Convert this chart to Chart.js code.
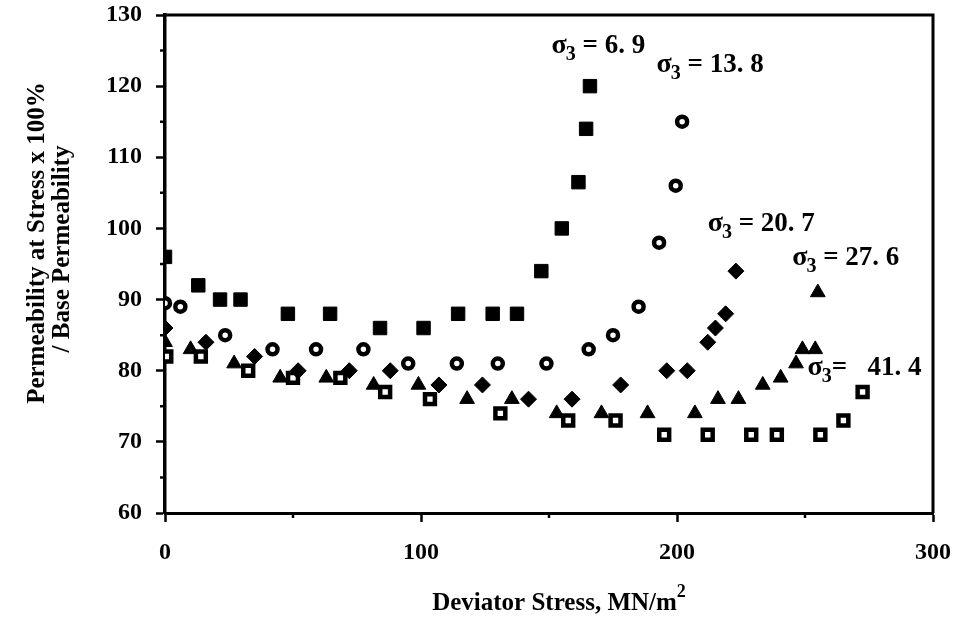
<!DOCTYPE html>
<html>
<head>
<meta charset="utf-8">
<script src="https://cdn.jsdelivr.net/npm/chart.js@4.4.0/dist/chart.umd.min.js"></script>
<style>
  html, body { margin: 0; padding: 0; background: #fff; }
</style>
</head>
<body>
<canvas id="permChart" width="963" height="636"></canvas>
<script>
// Deviator stress (MN/m2) vs permeability ratio (%), one pair of arrays per confining pressure
const s69X = [0, 13, 21.5, 29.5, 48, 64.5, 84, 101, 114.5, 128, 137.5, 147, 155, 161.5, 164.5, 166];
const s69Y = [96, 92, 90, 90, 88, 88, 86, 86, 88, 88, 88, 94, 100, 106.5, 114, 120];

const s138X = [0, 6, 23.5, 42, 59, 77.5, 95, 114, 130, 149, 165.5, 175, 185, 193, 199.5, 202];
const s138Y = [89.5, 89, 85, 83, 83, 83, 81, 81, 81, 81, 83, 85, 89, 98, 106, 115];

const s207X = [0, 16, 35, 52, 72, 88, 107, 124, 142, 159, 178, 196, 204, 212, 215, 219, 223];
const s207Y = [86, 84, 82, 80, 80, 80, 78, 78, 76, 76, 78, 80, 80, 84, 86, 88, 94];

const s276X = [0, 10, 27, 45, 63, 81.5, 99, 118, 135.5, 153, 170.5, 188.5, 207, 216, 224, 233.5, 240.5, 246.5, 249, 254, 255];
const s276Y = [84, 83, 81, 79, 79, 78, 78, 76, 76, 74, 74, 74, 74, 76, 76, 78, 79, 81, 83, 83, 91];

const s414X = [0.5, 14, 32.5, 50, 68.5, 86, 103.5, 131, 157.5, 176, 195, 212, 229, 239, 256, 265, 272.5];
const s414Y = [82, 82, 80, 79, 79, 77, 76, 74, 73, 73, 71, 71, 71, 71, 71, 73, 77];

// curve labels: text after the sigma, anchored in data units
const labelText = [" = 6. 9", " = 13. 8", " = 20. 7", " = 27. 6", "=   41. 4"];
const labelX = [151, 192, 212, 245, 251];
const labelY = [124.7, 122, 99.6, 94.9, 79.4];

const xMinor = [50, 150, 250];
const yMinor = [65, 75, 85, 95, 105, 115, 125];

const FONT = "'Liberation Serif', 'Times New Roman', serif";

function pairs(xs, ys) {
  return xs.map((x, i) => ({ x: x, y: ys[i] }));
}

const extras = {
  id: "extras",
  afterDraw(chart) {
    const { ctx, chartArea: a, scales } = chart;
    const x = scales.x, y = scales.y;
    ctx.save();
    ctx.strokeStyle = "#000";
    ctx.fillStyle = "#000";

    // top and right of the frame
    ctx.lineWidth = 3;
    ctx.beginPath();
    ctx.moveTo(a.left, a.top);
    ctx.lineTo(a.right, a.top);
    ctx.lineTo(a.right, a.bottom);
    ctx.stroke();

    // short minor ticks
    ctx.lineWidth = 2.5;
    ctx.beginPath();
    xMinor.forEach(v => {
      const px = x.getPixelForValue(v);
      ctx.moveTo(px, a.bottom);
      ctx.lineTo(px, a.bottom + 5);
    });
    yMinor.forEach(v => {
      const py = y.getPixelForValue(v);
      ctx.moveTo(a.left, py);
      ctx.lineTo(a.left - 5, py);
    });
    ctx.stroke();

    // sigma labels
    ctx.textBaseline = "alphabetic";
    ctx.textAlign = "left";
    labelText.forEach((t, i) => {
      let px = x.getPixelForValue(labelX[i]);
      const py = y.getPixelForValue(labelY[i]);
      ctx.font = "bold 28px " + FONT;
      ctx.fillText("\u03c3", px, py);
      px += ctx.measureText("\u03c3").width - 1;
      ctx.font = "bold 20px " + FONT;
      ctx.fillText("3", px, py + 7);
      px += ctx.measureText("3").width;
      ctx.font = "bold 27px " + FONT;
      ctx.fillText(t, px, py);
    });

    // x axis title with superscript
    ctx.font = "bold 25px " + FONT;
    const main = "Deviator Stress, MN/m";
    const wMain = ctx.measureText(main).width;
    ctx.font = "bold 18px " + FONT;
    const wSup = ctx.measureText("2").width;
    const cx = (a.left + a.right) / 2 + 10;
    const tx = cx - (wMain + wSup) / 2;
    ctx.font = "bold 25px " + FONT;
    ctx.fillText(main, tx, 610);
    ctx.font = "bold 18px " + FONT;
    ctx.fillText("2", tx + wMain, 597);

    // y axis title, two lines rotated
    ctx.font = "bold 25px " + FONT;
    ctx.textAlign = "center";
    ctx.textBaseline = "middle";
    ctx.translate(38, 243);
    ctx.rotate(-Math.PI / 2);
    ctx.fillText("Permeability at Stress x 100%", 0, 0);
    ctx.fillText("/ Base Permeability", -6, 25);
    ctx.restore();
  }
};

function fitX(s) {
  s.height = 123;
  s.paddingLeft = 0;
  s.paddingRight = 0;
}

function fitY(s) {
  s.width = 165;
  s.paddingTop = 0;
  s.paddingBottom = 0;
}

function createPermChart() {
  Chart.defaults.font.family = FONT;
  Chart.defaults.color = "#000";

  const ctx = document.getElementById("permChart").getContext("2d");
  new Chart(ctx, {
    type: "scatter",
    data: {
      datasets: [
        {
          label: "6.9",
          data: pairs(s69X, s69Y),
          pointStyle: "rect",
          pointRadius: 9.5,
          backgroundColor: "#000",
          borderColor: "#000",
          borderWidth: 1,
        },
        {
          label: "13.8",
          data: pairs(s138X, s138Y),
          pointStyle: "circle",
          pointRadius: 5,
          backgroundColor: "#fff",
          borderColor: "#000",
          borderWidth: 4.5,
        },
        {
          label: "20.7",
          data: pairs(s207X, s207Y),
          pointStyle: "rectRot",
          pointRadius: 8,
          backgroundColor: "#000",
          borderColor: "#000",
          borderWidth: 1,
        },
        {
          label: "27.6",
          data: pairs(s276X, s276Y),
          pointStyle: "triangle",
          pointRadius: 8.5,
          backgroundColor: "#000",
          borderColor: "#000",
          borderWidth: 1,
        },
        {
          label: "41.4",
          data: pairs(s414X, s414Y),
          pointStyle: "rect",
          pointRadius: 7,
          backgroundColor: "#fff",
          borderColor: "#000",
          borderWidth: 4.5,
        },
      ],
    },
    options: {
      responsive: false,
      animation: false,
      events: [],
      layout: { padding: { top: 15, right: 30, left: 0, bottom: 0 } },
      plugins: {
        legend: { display: false },
        tooltip: { enabled: false },
      },
      scales: {
        x: {
          type: "linear",
          min: 0,
          max: 300,
          afterFit: fitX,
          border: { display: true, color: "#000", width: 3 },
          grid: { drawOnChartArea: false, color: "#000", tickColor: "#000", tickLength: 9, tickWidth: 2.5 },
          ticks: { stepSize: 100, padding: 16, font: { size: 24, weight: "bold" }, color: "#000", maxRotation: 0 },
        },
        y: {
          min: 60,
          max: 130,
          afterFit: fitY,
          border: { display: true, color: "#000", width: 3.5 },
          grid: { drawOnChartArea: false, color: "#000", tickColor: "#000", tickLength: 9, tickWidth: 2.5 },
          ticks: { stepSize: 10, padding: 14, font: { size: 24, weight: "bold" }, color: "#000" },
        },
      },
    },
    plugins: [extras],
  });
}

createPermChart();
</script>
</body>
</html>
